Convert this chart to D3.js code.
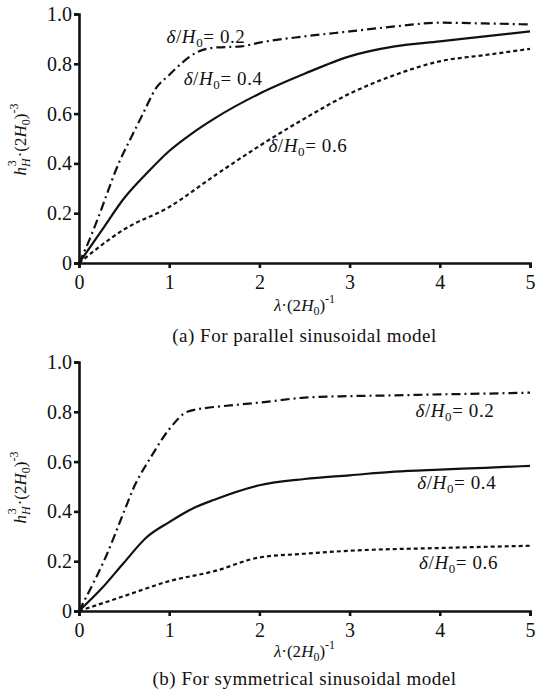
<!DOCTYPE html>
<html>
<head>
<meta charset="utf-8">
<style>
  body { margin: 0; background: #fff; }
</style>
<script src="https://d3js.org/d3.v7.min.js"></script>
</head>
<body>
<svg id="chart" width="537" height="691" style="font-family:'Liberation Serif', 'Times New Roman', serif"></svg>
<script>
const xTicks = [0, 1, 2, 3, 4, 5];
const yTicks = [0, 0.2, 0.4, 0.6, 0.8, 1.0];

// (a) parallel sinusoidal model
const parX02 = [0, 0.1, 0.2, 0.44, 0.6, 0.71, 0.85, 1.0, 1.13, 1.3, 1.5, 1.8, 2.0, 2.5, 3.0, 3.5, 4.0, 4.5, 5.0];
const parY02 = [0, 0.08, 0.17, 0.4, 0.52, 0.6, 0.7, 0.755, 0.8, 0.845, 0.865, 0.87, 0.885, 0.91, 0.93, 0.95, 0.965, 0.962, 0.958];
const parX04 = [0, 0.25, 0.5, 0.75, 1.0, 1.25, 1.5, 2.0, 2.5, 3.0, 3.5, 4.0, 4.5, 5.0];
const parY04 = [0, 0.13, 0.26, 0.36, 0.45, 0.52, 0.58, 0.68, 0.76, 0.83, 0.87, 0.89, 0.91, 0.93];
const parX06 = [0, 0.5, 1.0, 1.5, 2.0, 2.5, 3.0, 3.5, 4.0, 4.5, 5.0];
const parY06 = [0, 0.135, 0.225, 0.35, 0.47, 0.58, 0.68, 0.755, 0.81, 0.835, 0.86];

// (b) symmetrical sinusoidal model
const symX02 = [0, 0.1, 0.3, 0.5, 0.6, 0.8, 1.0, 1.2, 1.4, 1.6, 2.0, 2.5, 3.0, 3.5, 4.0, 4.5, 5.0];
const symY02 = [0, 0.07, 0.22, 0.4, 0.49, 0.62, 0.73, 0.8, 0.815, 0.823, 0.837, 0.857, 0.863, 0.866, 0.87, 0.873, 0.877];
const symX04 = [0, 0.25, 0.5, 0.75, 1.0, 1.25, 1.5, 2.0, 2.5, 3.0, 3.5, 4.0, 4.5, 5.0];
const symY04 = [0, 0.09, 0.195, 0.296, 0.357, 0.41, 0.447, 0.505, 0.53, 0.545, 0.56, 0.568, 0.575, 0.583];
const symX06 = [0, 0.5, 1.0, 1.5, 2.0, 2.5, 3.0, 4.0, 5.0];
const symY06 = [0, 0.06, 0.12, 0.16, 0.215, 0.23, 0.242, 0.253, 0.262];

const seriesLabels = ["0.2", "0.4", "0.6"];
const captions = ["(a)  For parallel sinusoidal model", "(b)  For symmetrical sinusoidal model"];

const FONT = "'Liberation Serif', 'Times New Roman', serif";
const svg = d3.select("#chart");
const left = 79, right = 530;

// label anchors are in data units
const panels = [
  { top: 14, bottom: 263, xlab: 48, cap: 79, caption: captions[0],
    series: [[parX02, parY02], [parX04, parY04], [parX06, parY06]],
    labels: [[0.97, 0.884], [1.16, 0.715], [2.1, 0.446]] },
  { top: 362, bottom: 611, xlab: 46, cap: 74, caption: captions[1],
    series: [[symX02, symY02], [symX04, symY04], [symX06, symY06]],
    labels: [[3.73, 0.78], [3.75, 0.49], [3.77, 0.17]] }
];

const dashes = ["9,4,2,4", null, "4,3"];

panels.forEach(p => {
  const x = d3.scaleLinear().domain([0, 5]).range([left, right]);
  const y = d3.scaleLinear().domain([0, 1]).range([p.bottom, p.top]);
  const g = svg.append("g");

  const line = d3.line().x(d => x(d[0])).y(d => y(d[1])).curve(d3.curveMonotoneX);
  p.series.forEach((s, i) => {
    const pts = s[0].map((v, j) => [v, s[1][j]]);
    g.append("path").datum(pts)
      .attr("d", line)
      .attr("fill", "none")
      .attr("stroke", "#111")
      .attr("stroke-width", 2.2)
      .attr("stroke-dasharray", dashes[i]);
  });

  const xAxis = g.append("g").attr("transform", `translate(0,${p.bottom})`)
    .call(d3.axisBottom(x).tickValues(xTicks).tickSize(5).tickPadding(7).tickFormat(d3.format("d")));
  const yAxis = g.append("g").attr("transform", `translate(${left},0)`)
    .call(d3.axisLeft(y).tickValues(yTicks).tickSize(5).tickPadding(2)
      .tickFormat(d => d === 0 ? "0" : d3.format(".1f")(d)));
  [xAxis, yAxis].forEach(a => {
    a.attr("font-family", FONT).attr("font-size", 20);
    a.select(".domain").attr("stroke", "#111").attr("stroke-width", 2.6);
    a.selectAll(".tick line").attr("stroke", "#111").attr("stroke-width", 2.6);
    a.selectAll(".tick text").attr("fill", "#111");
  });

  p.series.forEach((s, i) => {
    const t = g.append("text")
      .attr("x", x(p.labels[i][0])).attr("y", y(p.labels[i][1]))
      .attr("fill", "#111")
      .style("font-family", FONT)
      .style("font-size", "19px").style("letter-spacing", "0.6px");
    t.append("tspan").style("font-style", "italic").text("δ");
    t.append("tspan").text("/");
    t.append("tspan").style("font-style", "italic").text("H");
    t.append("tspan").attr("dy", 4).style("font-size", "13px").text("0");
    t.append("tspan").attr("dy", -4).text("= " + seriesLabels[i]);
  });

  const midY = (p.top + p.bottom) / 2;
  const yl = g.append("text")
    .attr("transform", `translate(26,${midY + 1}) rotate(-90)`)
    .attr("text-anchor", "middle")
    .attr("fill", "#111")
    .style("font-family", FONT)
    .style("font-size", "17px");
  yl.append("tspan").style("font-style", "italic").text("h");
  yl.append("tspan").attr("dy", 4).style("font-style", "italic").style("font-size", "12px").text("H");
  yl.append("tspan").attr("dx", -8).attr("dy", -14).style("font-size", "12px").text("3");
  yl.append("tspan").attr("dx", 3).attr("dy", 10).text("·(2");
  yl.append("tspan").style("font-style", "italic").text("H");
  yl.append("tspan").attr("dy", 4).style("font-size", "12px").text("0");
  yl.append("tspan").attr("dy", -4).text(")");
  yl.append("tspan").attr("dy", -8).style("font-size", "12px").text("-3");

  const xl = g.append("text")
    .attr("x", x(2.5)).attr("y", p.bottom + p.xlab)
    .attr("text-anchor", "middle")
    .attr("fill", "#111")
    .style("font-family", FONT)
    .style("font-size", "17px");
  xl.append("tspan").style("font-style", "italic").text("λ");
  xl.append("tspan").text("·(2");
  xl.append("tspan").style("font-style", "italic").text("H");
  xl.append("tspan").attr("dy", 4).style("font-size", "12px").text("0");
  xl.append("tspan").attr("dy", -4).text(")");
  xl.append("tspan").attr("dy", -8).style("font-size", "12px").text("-1");

  g.append("text")
    .attr("x", x(2.5)).attr("y", p.bottom + p.cap)
    .attr("text-anchor", "middle")
    .attr("fill", "#111")
    .style("font-family", FONT)
    .style("font-size", "19px").style("letter-spacing", "0.5px")
    .text(p.caption);
});
</script>
</body>
</html>
